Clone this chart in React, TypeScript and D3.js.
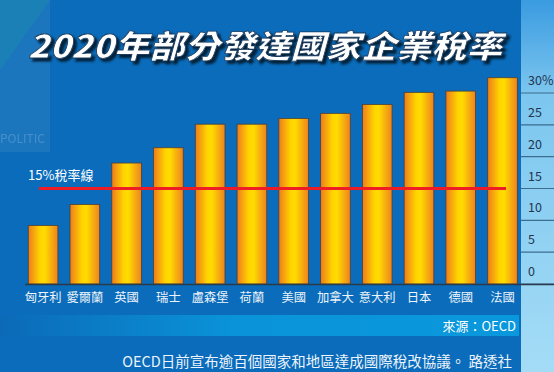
import { useEffect, useRef } from 'react';
import * as d3 from 'd3';

const countries = ['匈牙利', '愛爾蘭', '英國', '瑞士', '盧森堡', '荷蘭', '美國', '加拿大', '意大利', '日本', '德國', '法國'];
const rates = [9.2, 12.5, 19, 21.4, 25.1, 25.1, 26, 26.8, 28.2, 30.1, 30.3, 32.4];
const tickValues = [0, 5, 10, 15, 20, 25, 30];
const tickLabels = ['0', '5', '10', '15', '20', '25', '30%'];
const refRate = 15;

const W = 554;
const H = 372;
const FONT = '"Noto Sans CJK TC", "Noto Sans", sans-serif';

const App = () => {
  const svgRef = useRef<SVGSVGElement>(null);

  useEffect(() => {
    if (!svgRef.current) return;
    const svg = d3.select(svgRef.current);
    svg.selectAll('*').remove();

    const defs = svg.append('defs');

    const barGrad = defs.append('linearGradient').attr('id', 'barGrad')
      .attr('x1', 0).attr('x2', 1).attr('y1', 0).attr('y2', 0);
    barGrad.append('stop').attr('offset', '0%').attr('stop-color', '#ee7c1c');
    barGrad.append('stop').attr('offset', '40%').attr('stop-color', '#ffd400');
    barGrad.append('stop').attr('offset', '55%').attr('stop-color', '#ffdc00');
    barGrad.append('stop').attr('offset', '100%').attr('stop-color', '#ee821e');

    const sideGrad = defs.append('linearGradient').attr('id', 'sideGrad')
      .attr('x1', 0).attr('x2', 0).attr('y1', 0).attr('y2', 1);
    sideGrad.append('stop').attr('offset', '0%').attr('stop-color', '#3a9be0');
    sideGrad.append('stop').attr('offset', '25%').attr('stop-color', '#7cc6ef');
    sideGrad.append('stop').attr('offset', '100%').attr('stop-color', '#a4dcf6');

    const stripGrad = defs.append('linearGradient').attr('id', 'stripGrad')
      .attr('x1', 0).attr('x2', 1).attr('y1', 0).attr('y2', 0);
    stripGrad.append('stop').attr('offset', '0%').attr('stop-color', '#0b6ab8');
    stripGrad.append('stop').attr('offset', '45%').attr('stop-color', '#0a93d8');
    stripGrad.append('stop').attr('offset', '100%').attr('stop-color', '#0a98dc');

    const shadow = defs.append('filter').attr('id', 'titleShadow')
      .attr('x', '-5%').attr('y', '-20%').attr('width', '115%').attr('height', '160%');
    shadow.append('feDropShadow').attr('dx', 3).attr('dy', 3).attr('stdDeviation', 1.2)
      .attr('flood-color', '#061a30').attr('flood-opacity', 0.95);

    // background
    svg.append('rect').attr('width', W).attr('height', H).attr('fill', '#0a6cba');
    svg.append('path').attr('d', 'M0,0 L50,0 L50,152 L0,152 Z').attr('fill', '#ffffff').attr('opacity', 0.07);
    svg.append('path').attr('d', 'M0,70 L50,0 L0,0 Z').attr('fill', '#1aa0a0').attr('opacity', 0.25);
    svg.append('text').attr('x', 0).attr('y', 143).text('POLITIC')
      .attr('font-family', FONT).attr('font-size', 12).attr('fill', '#ffffff').attr('opacity', 0.18);

    // right axis panel
    svg.append('rect').attr('x', 521).attr('y', 0).attr('width', W - 521).attr('height', H).attr('fill', 'url(#sideGrad)');

    // source strip
    svg.append('rect').attr('x', 0).attr('y', 315).attr('width', 519).attr('height', 21).attr('fill', 'url(#stripGrad)');

    const x = d3.scaleBand<string>().domain(countries).range([22.2, 523.4])
      .paddingInner(0.29).paddingOuter(0.145);
    const y = d3.scaleLinear().domain([0, 30]).range([284, 93]);

    // axis separators and labels
    tickValues.forEach((v, i) => {
      svg.append('line').attr('x1', 521).attr('x2', W).attr('y1', y(v)).attr('y2', y(v))
        .attr('stroke', '#3d6d8e').attr('stroke-width', 1.2);
      svg.append('text').attr('x', 528).attr('y', y(v) - 8).text(tickLabels[i])
        .attr('font-family', FONT).attr('font-size', 12.5).attr('fill', '#1f3550');
    });

    // bars
    svg.append('g').selectAll('rect').data(rates).join('rect')
      .attr('x', (_, i) => x(countries[i])!)
      .attr('y', d => y(d))
      .attr('width', x.bandwidth())
      .attr('height', d => y(0) - y(d))
      .attr('fill', 'url(#barGrad)')
      .attr('stroke', '#4a4038').attr('stroke-width', 0.8);

    // baseline
    svg.append('line').attr('x1', 25).attr('x2', W).attr('y1', y(0) + 0.5).attr('y2', y(0) + 0.5)
      .attr('stroke', '#2a3a4a').attr('stroke-width', 1.5);

    // 15% line
    svg.append('line').attr('x1', 39).attr('x2', 506).attr('y1', y(refRate)).attr('y2', y(refRate))
      .attr('stroke', '#ee1c25').attr('stroke-width', 3.2);
    svg.append('text').attr('x', 28).attr('y', y(refRate) - 9).text('15%稅率線')
      .attr('font-family', FONT).attr('font-size', 13).attr('fill', '#ffffff');

    // category labels
    svg.append('g').selectAll('text').data(countries).join('text')
      .attr('x', d => x(d)! + x.bandwidth() / 2)
      .attr('y', 302)
      .attr('text-anchor', 'middle')
      .text(d => d)
      .attr('font-family', FONT).attr('font-size', 12.3).attr('fill', '#eef4fb');

    // title
    svg.append('text').attr('x', 28).attr('y', 58).text('2020年部分發達國家企業稅率')
      .attr('font-family', FONT).attr('font-size', 32).attr('font-weight', 900)
      .attr('font-style', 'italic')
      .attr('textLength', 474).attr('lengthAdjust', 'spacingAndGlyphs')
      .attr('fill', '#ffffff')
      .attr('stroke', '#1b3a5c').attr('stroke-width', 0.8)
      .attr('filter', 'url(#titleShadow)');

    // source and note
    svg.append('text').attr('x', 516).attr('y', 331).attr('text-anchor', 'end').text('來源：OECD')
      .attr('font-family', FONT).attr('font-size', 13).attr('fill', '#ffffff');
    svg.append('text').attr('x', 512).attr('y', 367).attr('text-anchor', 'end')
      .text('OECD日前宣布逾百個國家和地區達成國際稅改協議。 路透社')
      .attr('font-family', FONT).attr('font-size', 14.5).attr('fill', '#eef4fb');
  }, []);

  return (
    <div style={{ position: 'fixed', left: 0, top: 0 }}>
      <svg ref={svgRef} width={W} height={H} style={{ display: 'block' }} />
    </div>
  );
};

export default App;
